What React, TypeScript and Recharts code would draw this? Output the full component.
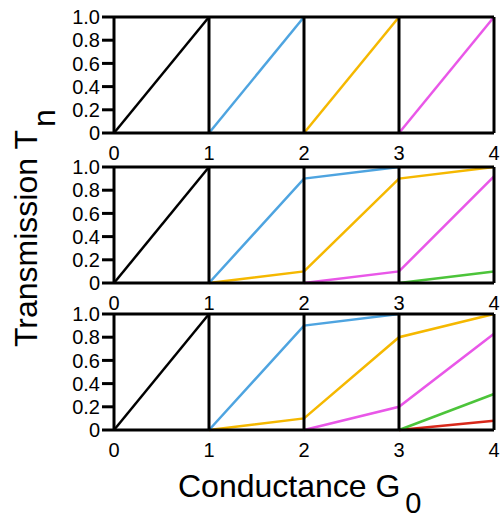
import React from "react";
import { LineChart, Line, XAxis, YAxis, ReferenceLine } from "recharts";

const G = [0, 1, 2, 3, 4];
const xTicks = [0, 1, 2, 3, 4];
const yTicks = [0, 0.2, 0.4, 0.6, 0.8, 1.0];
const dividers = [1, 2, 3, 4];

// panel 1
const p1Black = [0, 1, null, null, null];
const p1Blue = [null, 0, 1, null, null];
const p1Orange = [null, null, 0, 1, null];
const p1Magenta = [null, null, null, 0, 1];

// panel 2
const p2Black = [0, 1, null, null, null];
const p2Blue = [null, 0, 0.9, 1.0, null];
const p2Orange = [null, 0, 0.1, 0.9, 1.0];
const p2Magenta = [null, null, 0, 0.1, 0.92];
const p2Green = [null, null, null, 0, 0.1];

// panel 3
const p3Black = [0, 1, null, null, null];
const p3Blue = [null, 0, 0.9, 1.0, null];
const p3Orange = [null, 0, 0.1, 0.8, 1.0];
const p3Magenta = [null, null, 0, 0.2, 0.83];
const p3Green = [null, null, null, 0, 0.31];
const p3Red = [null, null, null, 0, 0.08];

const COLORS: Record<string, string> = {
  red: "#d8281a",
  green: "#4cc43a",
  magenta: "#e957e8",
  orange: "#f5b800",
  blue: "#4ea4e0",
  black: "#000000",
};

const FONT = "'Liberation Sans', Arial, Helvetica, sans-serif";

type Series = { name: string; values: (number | null)[] };

function makeRows(series: Series[]) {
  return G.map((g, i) => {
    const row: Record<string, number | null> = { g };
    series.forEach((s) => (row[s.name] = s.values[i]));
    return row;
  });
}

const panels: Series[][] = [
  [
    { name: "black", values: p1Black },
    { name: "blue", values: p1Blue },
    { name: "orange", values: p1Orange },
    { name: "magenta", values: p1Magenta },
  ],
  [
    { name: "black", values: p2Black },
    { name: "green", values: p2Green },
    { name: "magenta", values: p2Magenta },
    { name: "orange", values: p2Orange },
    { name: "blue", values: p2Blue },
  ],
  [
    { name: "black", values: p3Black },
    { name: "red", values: p3Red },
    { name: "green", values: p3Green },
    { name: "magenta", values: p3Magenta },
    { name: "orange", values: p3Orange },
    { name: "blue", values: p3Blue },
  ],
];

const panelTops = [0, 150, 297];

const tickStyle = { fontSize: 20, fill: "#000", fontFamily: FONT };

const Panel = ({ series }: { series: Series[] }) => (
  <LineChart
    width={503}
    height={176}
    data={makeRows(series)}
    margin={{ top: 17, right: 9, left: 0, bottom: 16 }}
  >
    <XAxis
      dataKey="g"
      type="number"
      domain={[0, 4]}
      ticks={xTicks}
      tickLine={false}
      tickSize={0}
      tickMargin={13}
      height={27}
      axisLine={{ stroke: "#000", strokeWidth: 3 }}
      tick={tickStyle}
      interval={0}
    />
    <YAxis
      type="number"
      domain={[0, 1]}
      ticks={yTicks}
      width={114}
      tickSize={12}
      tickMargin={2}
      interval={0}
      tickFormatter={(v: number) => (v === 0 ? "0" : v.toFixed(1))}
      axisLine={{ stroke: "#000", strokeWidth: 3 }}
      tickLine={{ stroke: "#000", strokeWidth: 3 }}
      tick={tickStyle}
    />
    {series.map((s) => (
      <Line
        key={s.name}
        dataKey={s.name}
        type="linear"
        stroke={COLORS[s.name]}
        strokeWidth={2.5}
        dot={false}
        isAnimationActive={false}
      />
    ))}
    <ReferenceLine y={1} stroke="#000" strokeWidth={3} />
    {dividers.map((d) => (
      <ReferenceLine key={d} x={d} stroke="#000" strokeWidth={3} />
    ))}
  </LineChart>
);

export default function App() {
  return (
    <div
      style={{
        position: "absolute",
        left: 0,
        top: 0,
        width: 503,
        height: 518,
        background: "#fff",
        fontFamily: FONT,
        overflow: "hidden",
      }}
    >
      {panels.map((s, i) => (
        <div key={i} style={{ position: "absolute", left: 0, top: panelTops[i] }}>
          <Panel series={s} />
        </div>
      ))}
      <svg
        width={503}
        height={518}
        style={{ position: "absolute", left: 0, top: 0, pointerEvents: "none" }}
      >
        <text x={178} y={497} fontSize={32} fontFamily={FONT} fill="#000">
          <tspan>Conductance G</tspan>
          <tspan dx={5} dy={16} fontSize={29}>
            0
          </tspan>
        </text>
        <text
          transform="translate(37,347) rotate(-90)"
          fontSize={32}
          fontFamily={FONT}
          fill="#000"
        >
          <tspan>Transmission T</tspan>
          <tspan dx={3} dy={18}>
            n
          </tspan>
        </text>
      </svg>
    </div>
  );
}
